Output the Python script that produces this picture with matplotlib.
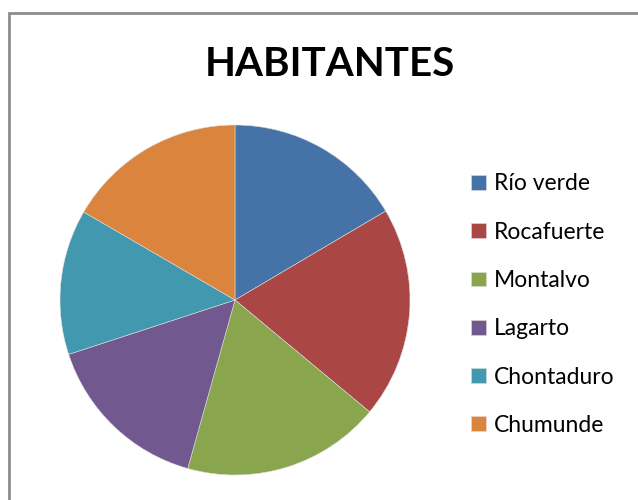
import matplotlib
matplotlib.use('Agg')
import matplotlib.pyplot as plt
from matplotlib.patches import Rectangle

# Data
towns = ['Río verde', 'Rocafuerte', 'Montalvo', 'Lagarto', 'Chontaduro', 'Chumunde']
share = [16.5, 19.5, 18.3, 15.6, 13.4, 16.6]
colors = ['#4572A7', '#AA4643', '#89A54E', '#71588F', '#4198AF', '#DB843D']

plt.rcParams['font.family'] = ['Lato', 'DejaVu Sans']

W, H = 638, 500
fig = plt.figure(figsize=(W / 100, H / 100), dpi=100)

# chart frame (only top and left edges visible)
fig.patches.append(Rectangle((9 / W, -0.2), 1.2, 487 / H + 0.2, transform=fig.transFigure,
                             fill=False, edgecolor='#8c8c8c', linewidth=2))

cx, cy, r = 235, 300, 175
ax = fig.add_axes([(cx - r) / W, (H - cy - r) / H, 2 * r / W, 2 * r / H])
wedges, _ = ax.pie(share, colors=colors, startangle=90, counterclock=False,
                   wedgeprops=dict(edgecolor='#dddddd', linewidth=0.4))
ax.set_xlim(-1, 1)
ax.set_ylim(-1, 1)
ax.set_aspect('equal')

fig.text(330 / W, 1 - 64 / H, 'HABITANTES', ha='center', va='center',
         fontsize=29, fontweight='bold', color='black')

fig.legend(wedges, towns, loc='upper left', bbox_to_anchor=(460 / W, 1 - 162 / H),
           frameon=False, fontsize=16.5, handlelength=0.62, handleheight=0.62,
           handletextpad=0.35, labelspacing=1.19, borderpad=0)

fig.savefig('out.png', dpi=100)
